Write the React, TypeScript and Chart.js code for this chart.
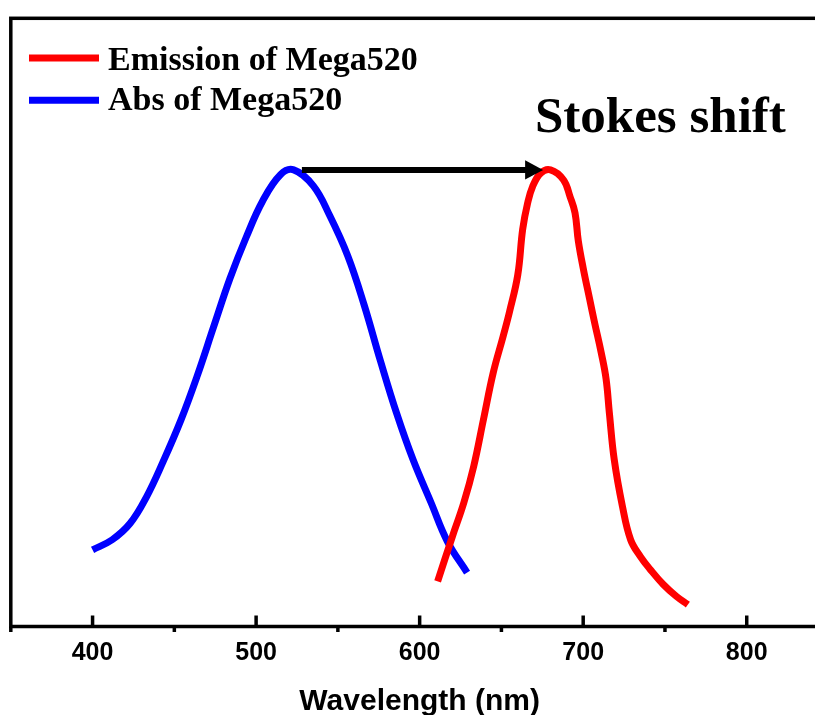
import React, { useEffect, useRef } from "react";
import { Chart, registerables } from "chart.js";

Chart.register(...registerables);

// Absorption spectrum (blue)
const absWavelength = [400, 412, 423, 433, 443, 454, 464, 474, 484, 494, 504, 515, 523, 535, 545, 556, 566, 576, 586, 596, 607, 617, 629];
const absIntensity = [0.168, 0.19, 0.226, 0.284, 0.36, 0.452, 0.549, 0.656, 0.762, 0.853, 0.932, 0.99, 1.0, 0.965, 0.9, 0.812, 0.705, 0.582, 0.466, 0.365, 0.271, 0.186, 0.118];

// Emission spectrum (red)
const emWavelength = [611, 620, 627, 633, 639, 645, 651, 655, 660, 663, 666, 669, 674, 680, 688, 692, 695, 697, 700, 704, 707, 711, 714, 716, 719, 724, 729, 735, 741, 749, 757, 764];
const emIntensity = [0.099, 0.197, 0.271, 0.35, 0.453, 0.556, 0.635, 0.69, 0.77, 0.87, 0.927, 0.963, 0.993, 1.0, 0.978, 0.941, 0.906, 0.845, 0.785, 0.716, 0.665, 0.6, 0.542, 0.468, 0.365, 0.263, 0.19, 0.153, 0.125, 0.092, 0.066, 0.048];

const seriesLabels = ["Emission of Mega520", "Abs of Mega520"];
const seriesColors = ["#ff0000", "#0000ff"];

const majorTicks = [400, 500, 600, 700, 800];
const minorTicks = [350, 450, 550, 650, 750, 850];
const xMin = 350;
const xMax = 850;
const yMin = 0;
const yMax = 1.332;

const xTitle = "Wavelength (nm)";
const annotationText = "Stokes shift";
const arrowFrom = 528;
const arrowTo = 675.5;
const arrowLevel = 1.0;

const decorPlugin = {
  id: "decor",
  beforeDatasetsDraw(chart: any) {
    const { ctx, chartArea } = chart;
    const xs = chart.scales.x;
    const { left, right, top, bottom } = chartArea;
    ctx.save();
    ctx.strokeStyle = "#000";
    ctx.lineWidth = 3.5;
    ctx.lineCap = "butt";
    ctx.strokeRect(left, top, right - left, bottom - top);
    majorTicks.forEach((v) => {
      const px = xs.getPixelForValue(v);
      ctx.beginPath();
      ctx.moveTo(px, bottom);
      ctx.lineTo(px, bottom - 11);
      ctx.stroke();
    });
    minorTicks.forEach((v) => {
      const px = xs.getPixelForValue(v);
      ctx.beginPath();
      ctx.moveTo(px, bottom);
      ctx.lineTo(px, bottom + 5.5);
      ctx.stroke();
    });
    ctx.fillStyle = "#000";
    ctx.font = 'bold 25px "Liberation Sans", Arial, sans-serif';
    ctx.textAlign = "center";
    ctx.textBaseline = "alphabetic";
    majorTicks.forEach((v) => {
      ctx.fillText(String(v), xs.getPixelForValue(v), 660);
    });
    ctx.font = 'bold 30px "Liberation Sans", Arial, sans-serif';
    ctx.fillText(xTitle, (left + right) / 2, 710);
    ctx.restore();
  },
  afterDatasetsDraw(chart: any) {
    const { ctx } = chart;
    const xs = chart.scales.x;
    const ys = chart.scales.y;
    ctx.save();
    const x0 = xs.getPixelForValue(arrowFrom);
    const x1 = xs.getPixelForValue(arrowTo);
    const y = ys.getPixelForValue(arrowLevel);
    ctx.strokeStyle = "#000";
    ctx.fillStyle = "#000";
    ctx.lineWidth = 6;
    ctx.beginPath();
    ctx.moveTo(x0, y);
    ctx.lineTo(x1 - 16, y);
    ctx.stroke();
    ctx.beginPath();
    ctx.moveTo(x1, y);
    ctx.lineTo(x1 - 18, y - 9.7);
    ctx.lineTo(x1 - 18, y + 9.7);
    ctx.closePath();
    ctx.fill();
    ctx.font = 'bold 51px "Liberation Serif", "Times New Roman", serif';
    ctx.textAlign = "left";
    ctx.textBaseline = "alphabetic";
    ctx.fillText(annotationText, 535, 132);
    chart.data.datasets.forEach((ds: any, i: number) => {
      const ly = 58 + i * 42.3;
      ctx.strokeStyle = ds.borderColor;
      ctx.lineWidth = 7;
      ctx.beginPath();
      ctx.moveTo(29, ly);
      ctx.lineTo(99, ly);
      ctx.stroke();
      ctx.fillStyle = "#000";
      ctx.font = 'bold 34px "Liberation Serif", "Times New Roman", serif';
      ctx.fillText(ds.label, 108, 69.5 + i * 40.8);
    });
    ctx.restore();
  },
};

export default function App() {
  const canvasRef = useRef<HTMLCanvasElement | null>(null);

  useEffect(() => {
    const canvas = canvasRef.current;
    if (!canvas) return;
    const chart = new Chart(canvas, {
      type: "line",
      data: {
        datasets: [
          {
            label: seriesLabels[0],
            data: emWavelength.map((x, i) => ({ x, y: emIntensity[i] })),
            borderColor: seriesColors[0],
            borderWidth: 7,
            borderCapStyle: "butt",
            tension: 0.4,
            pointRadius: 0,
            fill: false,
          },
          {
            label: seriesLabels[1],
            data: absWavelength.map((x, i) => ({ x, y: absIntensity[i] })),
            borderColor: seriesColors[1],
            borderWidth: 7,
            borderCapStyle: "butt",
            tension: 0.4,
            pointRadius: 0,
            fill: false,
          },
        ],
      },
      options: {
        responsive: false,
        animation: false,
        layout: { padding: { left: 10.8, top: 18.3, right: 71.5, bottom: 88.5 } },
        scales: {
          x: { type: "linear", min: xMin, max: xMax, display: false },
          y: { type: "linear", min: yMin, max: yMax, display: false },
        },
        plugins: {
          legend: { display: false },
          tooltip: { enabled: false },
        },
      },
      plugins: [decorPlugin],
    } as any);
    return () => chart.destroy();
  }, []);

  return (
    <div style={{ position: "absolute", left: 0, top: 0, width: 815, height: 715, overflow: "hidden", background: "#fff" }}>
      <canvas ref={canvasRef} width={900} height={715} style={{ display: "block" }} />
    </div>
  );
}
